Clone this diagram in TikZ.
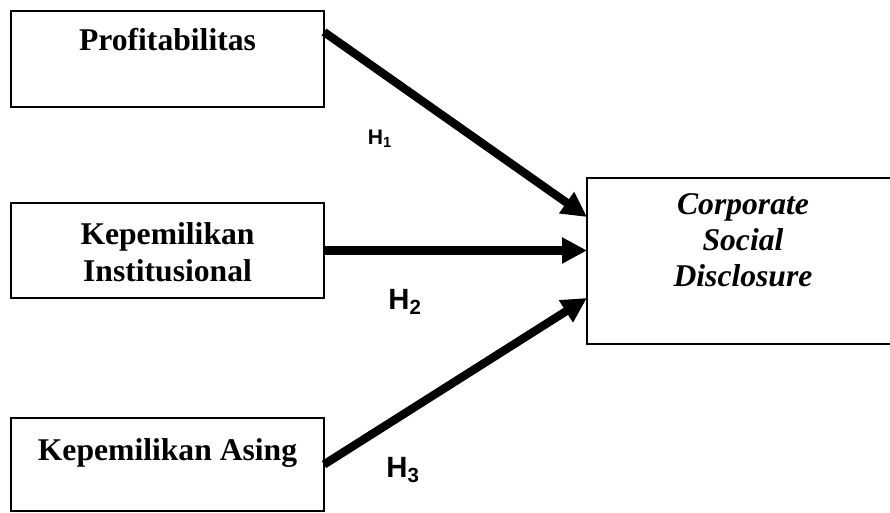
\documentclass[tikz,border=0pt]{standalone}
\usepackage{fontspec}
\setmainfont{Liberation Serif}
\newfontfamily\hfont{Liberation Sans}
\usetikzlibrary{arrows.meta,positioning}
\tikzset{
  kotak/.style={draw,line width=1pt,inner sep=0pt,outer sep=0pt,minimum width=#1},
  kotak/.default=9.39cm,
  teks/.style={inner sep=0pt,align=center,font=\fontsize{27}{32}\selectfont\bfseries},
  panah/.style={->,line width=0.25cm},
  hip/.style={inner sep=0pt,font=\hfont\bfseries\fontsize{25}{27}\selectfont}
}
\begin{document}
\begin{tikzpicture}[>={Triangle[length=7.5mm,width=7.4mm]},line join=miter]
	\useasboundingbox (0,0) rectangle (26.7,15.39);
	\clip (0,0) rectangle (26.7,15.39);
	%Kotak variabel
	\node[kotak,minimum height=2.88cm] (P) at (5.025,13.62) {};
	\node[kotak,minimum height=2.85cm] (K) at (5.025,7.875) {};
	\node[kotak,minimum height=2.79cm] (A) at (5.025,1.455) {};
	\node[kotak=9.6cm,minimum height=4.98cm] (C) at (22.41,7.56) {};
	\node[teks,below=0.51cm of P.north] {Profitabilitas};
	\node[teks,below=0.57cm of K.north] {Kepemilikan\\Institusional};
	\node[teks,below=0.6cm of A.north] {Kepemilikan Asing};
	\node[teks,below=0.45cm of C.north,xshift=-0.12cm,font=\fontsize{27}{31}\selectfont\bfseries\itshape] {Corporate\\Social\\Disclosure};
	%Panah hipotesis
	\draw[panah] ([yshift=-0.63cm]P.north east) -- ([yshift=1.32cm]C.west);
	\draw[panah] (K.east) -- (K.east -| C.west);
	\draw[panah] (A.east) -- ([yshift=-1.11cm]C.west);
	\node[hip,font=\hfont\bfseries\fontsize{18}{20}\selectfont] (H1) at (11.4,11.22) {H\textsubscript{1}};
	\node[hip] (H2) at (12.15,6.33) {H\textsubscript{2}};
	\node[hip] (H3) at (12.09,1.29) {H\textsubscript{3}};
\end{tikzpicture}
\end{document}
